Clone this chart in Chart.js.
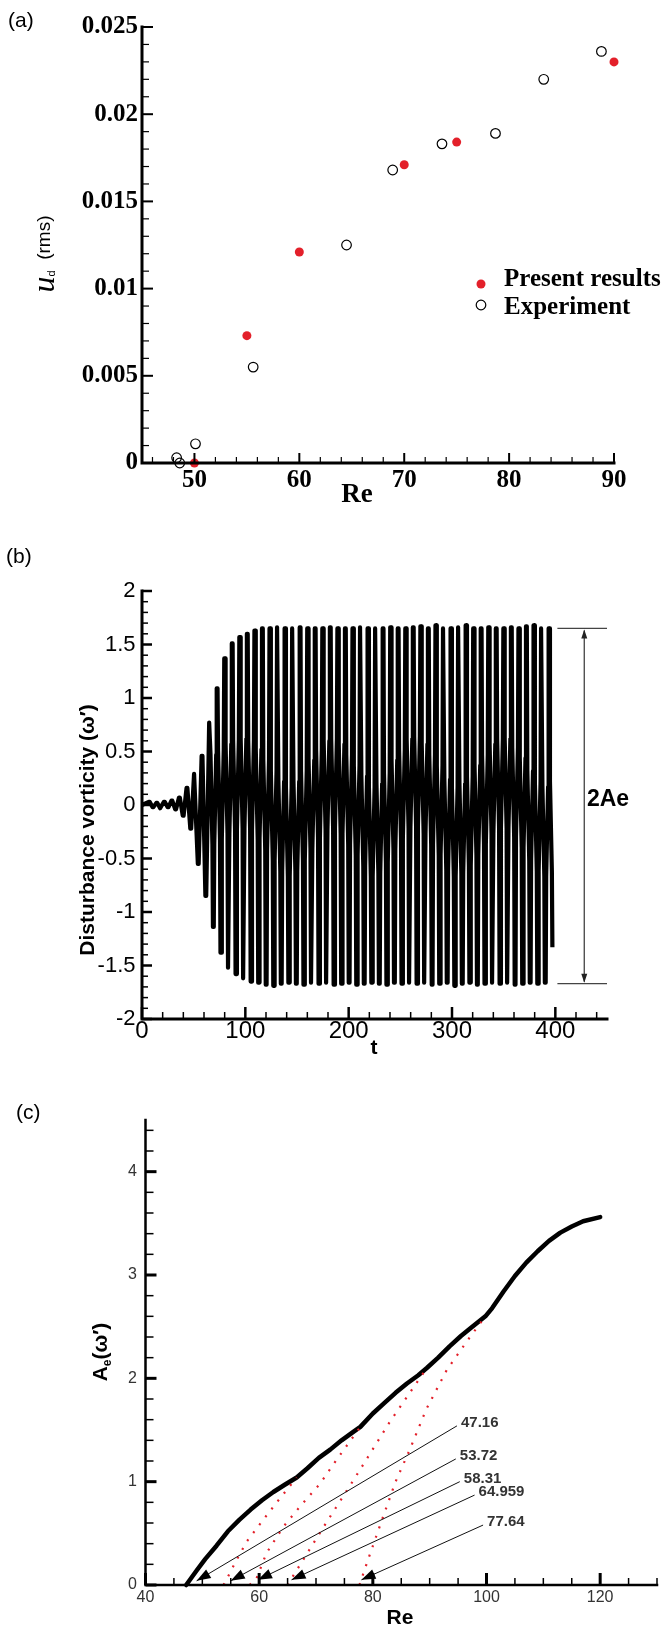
<!DOCTYPE html>
<html>
<head>
<meta charset="utf-8">
<title>Wake instability vs Re</title>
<script src="https://cdn.jsdelivr.net/npm/chart.js@4.4.1/dist/chart.umd.min.js"></script>
<style>
  body { margin: 0; background: #fff; }
  canvas { position: absolute; left: 0; }
  #chartA { top: 0; }
  #chartB { top: 520px; }
  #chartC { top: 1060px; }
</style>
</head>
<body>
<canvas id="chartA" width="667" height="520"></canvas>
<canvas id="chartB" width="667" height="540"></canvas>
<canvas id="chartC" width="667" height="568"></canvas>
<script>
// ---------- (a) u_d rms against Re
const presentRe = [50, 55, 60, 70, 75, 90];
const presentUd = [0.0000, 0.0073, 0.0121, 0.0171, 0.0184, 0.0230];
const expRe = [48.3, 48.6, 50.1, 55.6, 64.5, 68.9, 73.6, 78.7, 83.3, 88.8];
const expUd = [0.0003, 0.0000, 0.0011, 0.0055, 0.0125, 0.0168, 0.0183, 0.0189, 0.0220, 0.0236];
const aXTicks = [50, 60, 70, 80, 90];
const aYTicks = [0, 0.005, 0.01, 0.015, 0.02, 0.025];

// ---------- (b) disturbance vorticity time trace, one entry per oscillation cycle
const cycleT = [7, 14.3, 21.6, 28.9, 36.2, 43.5, 50.8, 58.1, 65.4, 72.7,
  80, 87.3, 94.6, 101.9, 109.2, 116.5, 123.8, 131.1, 138.4, 145.7,
  153, 160.3, 167.6, 174.9, 182.2, 189.5, 196.8, 204.1, 211.4, 218.7,
  226, 233.3, 240.6, 247.9, 255.2, 262.5, 269.8, 277.1, 284.4, 291.7,
  299, 306.3, 313.6, 320.9, 328.2, 335.5, 342.8, 350.1, 357.4, 364.7,
  372, 379.3, 386.6, 393.9];
const peakHi = [0.03, 0.02, 0.03, 0.04, 0.07, 0.16, 0.29, 0.46, 0.77, 1.09,
  1.37, 1.51, 1.57, 1.60, 1.63, 1.65, 1.65, 1.66, 1.65, 1.65,
  1.66, 1.65, 1.65, 1.65, 1.66, 1.65, 1.65, 1.65, 1.66, 1.65,
  1.65, 1.65, 1.66, 1.65, 1.65, 1.66, 1.67, 1.65, 1.68, 1.65,
  1.65, 1.66, 1.68, 1.65, 1.65, 1.66, 1.65, 1.65, 1.66, 1.65,
  1.67, 1.68, 1.65, 1.65];
const troughLo = [-0.02, -0.03, -0.02, -0.04, -0.10, -0.22, -0.55, -0.85, -1.14, -1.38,
  -1.52, -1.58, -1.62, -1.65, -1.66, -1.68, -1.69, -1.67, -1.66, -1.67,
  -1.68, -1.66, -1.67, -1.66, -1.68, -1.67, -1.66, -1.68, -1.67, -1.66,
  -1.67, -1.68, -1.66, -1.67, -1.66, -1.67, -1.66, -1.68, -1.67, -1.66,
  -1.69, -1.67, -1.66, -1.68, -1.67, -1.66, -1.67, -1.66, -1.68, -1.67,
  -1.66, -1.67, -1.66, -1.33];
// slow drift of the dark middle band
const bandMid = [0, 0, 0, 0, 0, 0, 0, 0.0, 0.05, 0.1,
  0.15, 0.18, 0.2, 0.18, 0.1, 0.0, -0.1, -0.2, -0.25, -0.2,
  -0.1, 0.0, 0.1, 0.18, 0.2, 0.15, 0.05, -0.05, -0.15, -0.25,
  -0.22, -0.12, 0.0, 0.1, 0.2, 0.22, 0.15, 0.05, -0.05, -0.18,
  -0.25, -0.22, -0.15, -0.05, 0.05, 0.15, 0.2, 0.2, 0.12, 0.02,
  -0.1, -0.2, -0.25, -0.2];
const bXTicks = [0, 100, 200, 300, 400];
const bYTicks = [-2, -1.5, -1, -0.5, 0, 0.5, 1, 1.5, 2];
const aeTop = 1.65, aeBot = -1.67;

// ---------- (c) saturated amplitude A_e against Re
const mainRe = [47.16, 49, 50.5, 52.5, 54.5, 56.5, 58.5, 60.5, 62.5, 64.5, 66.6, 68.5, 70.5, 72.5, 74.5, 76.5, 77.8,
  80, 82, 84, 86, 88, 89.5, 91.5, 93.5, 95.5, 97.5, 99.8, 101, 103, 105, 107, 109, 111, 113, 115, 117, 120];
const mainAe = [0, 0.14, 0.25, 0.38, 0.52, 0.63, 0.73, 0.82, 0.9, 0.97, 1.04, 1.13, 1.23, 1.31, 1.4, 1.48, 1.53,
  1.66, 1.76, 1.86, 1.95, 2.03, 2.1, 2.2, 2.31, 2.41, 2.5, 2.6, 2.68, 2.84, 2.99, 3.12, 3.23, 3.33, 3.41, 3.47, 3.52, 3.56];
const branch1Re = [53.72, 54.5, 56, 57.8, 60.7, 63.1, 66.6];
const branch1Ae = [0, 0.08, 0.24, 0.42, 0.63, 0.8, 1.04];
const branch2Re = [58.31, 59.5, 61.3, 64.2, 67.5, 70.7, 73.6, 77.8];
const branch2Ae = [0, 0.06, 0.31, 0.56, 0.78, 0.98, 1.21, 1.53];
const branch3Re = [64.959, 66, 71.2, 77, 83, 89.5];
const branch3Ae = [0, 0.09, 0.55, 1.05, 1.58, 2.1];
const branch4Re = [77.64, 79, 81.8, 84, 86.5, 89.4, 93, 96.7, 99.8];
const branch4Ae = [0, 0.22, 0.66, 1.0, 1.31, 1.7, 2.08, 2.37, 2.6];
const leaderLabel = ['47.16', '53.72', '58.31', '64.959', '77.64'];
const leaderTipRe = [49.0, 55.0, 59.8, 65.7, 78.0];
const leaderTipAe = [0.04, 0.04, 0.05, 0.05, 0.05];
const leaderTailRe = [94.8, 94.6, 95.3, 97.9, 99.4];
const leaderTailAe = [1.54, 1.22, 1.0, 0.87, 0.58];
const cXTicks = [40, 60, 80, 100, 120];
const cYTicks = [0, 1, 2, 3, 4];

const red = '#e3202a';
const xy = (xs, ys) => xs.map((v, i) => ({ x: v, y: ys[i] }));

// inward axis ticks and the two axis lines
function frame(spec) {
  return {
    id: 'frame',
    afterDraw(chart) {
      const { ctx, chartArea: a, scales: { x, y } } = chart;
      ctx.save();
      ctx.strokeStyle = '#000';
      const each = (min, max, step, fn) => {
        const start = Math.ceil(min / step - 1e-6);
        for (let i = start; i * step <= max + 1e-9; i++) fn(+(i * step).toFixed(6));
      };
      const isMajor = (v, step) => Math.abs(v / step - Math.round(v / step)) < 1e-6;
      each(x.min, x.max, spec.xMinor, v => {
        const maj = isMajor(v, spec.xMajor);
        const px = x.getPixelForValue(v);
        ctx.lineWidth = maj ? spec.majW : spec.minW;
        ctx.beginPath();
        ctx.moveTo(px, a.bottom);
        ctx.lineTo(px, a.bottom - (maj ? spec.xMaj : spec.xMin));
        ctx.stroke();
      });
      each(y.min, y.max, spec.yMinor, v => {
        const maj = isMajor(v, spec.yMajor);
        const py = y.getPixelForValue(v);
        ctx.lineWidth = maj ? spec.majW : spec.minW;
        ctx.beginPath();
        ctx.moveTo(a.left, py);
        ctx.lineTo(a.left + (maj ? spec.yMaj : spec.yMin), py);
        ctx.stroke();
      });
      ctx.lineWidth = spec.axisW;
      ctx.lineCap = 'square';
      ctx.beginPath();
      ctx.moveTo(a.left, a.top);
      ctx.lineTo(a.left, a.bottom);
      ctx.lineTo(a.right, a.bottom);
      ctx.stroke();
      ctx.restore();
    }
  };
}

// text written bottom-to-top; parts share one baseline at page x = bx
function verticalText(ctx, parts, bx, cy) {
  ctx.save();
  ctx.translate(bx, cy);
  ctx.rotate(-Math.PI / 2);
  ctx.textBaseline = 'alphabetic';
  ctx.textAlign = 'left';
  let total = 0;
  parts.forEach(p => { ctx.font = p.font; total += ctx.measureText(p.text).width; });
  let pos = -total / 2;
  parts.forEach(p => {
    ctx.font = p.font;
    ctx.fillStyle = p.color || '#000';
    ctx.fillText(p.text, pos, p.dy || 0);
    pos += ctx.measureText(p.text).width;
  });
  ctx.restore();
}

function text(ctx, str, x, y, font, align, color) {
  ctx.save();
  ctx.font = font;
  ctx.fillStyle = color || '#000';
  ctx.textAlign = align || 'left';
  ctx.textBaseline = 'middle';
  ctx.fillText(str, x, y);
  ctx.restore();
}

function fixedTicks(values) {
  return s => { s.ticks = values.map(v => ({ value: v })); };
}

function axisOpts(min, max, values, font, padding, color, fit) {
  return {
    type: 'linear', min, max,
    afterBuildTicks: fixedTicks(values),
    afterFit: fit,
    grid: { display: false, drawTicks: false },
    border: { display: false },
    ticks: { autoSkip: false, maxRotation: 0, minRotation: 0, padding, font, color: color || '#000',
      callback: v => String(v) }
  };
}

const serifBold = { family: 'Liberation Serif', weight: 'bold', size: 25 };

// ---------- chart (a)
new Chart(document.getElementById('chartA'), {
  type: 'scatter',
  data: {
    datasets: [
      { label: 'Present results', data: xy(presentRe, presentUd), pointRadius: 4.5,
        pointBackgroundColor: red, pointBorderColor: red, pointBorderWidth: 0, clip: false },
      { label: 'Experiment', data: xy(expRe, expUd), pointRadius: 4.8,
        pointBackgroundColor: 'rgba(0,0,0,0)', pointBorderColor: '#000', pointBorderWidth: 1.2, clip: false }
    ]
  },
  options: {
    responsive: false, animation: false, events: [],
    layout: { padding: { left: 42, right: 53, top: 27, bottom: 17 } },
    plugins: { legend: { display: false }, tooltip: { enabled: false } },
    scales: {
      x: axisOpts(45, 90, aXTicks, serifBold, 3, '#000', s => { s.height = 40; }),
      y: axisOpts(0, 0.025, aYTicks, serifBold, 4, '#000', s => { s.width = 100; })
    }
  },
  plugins: [frame({ xMinor: 2, xMajor: 10, yMinor: 0.001, yMajor: 0.005, xMaj: 10, xMin: 6, yMaj: 11, yMin: 7,
    majW: 2, minW: 1.2, axisW: 3 }), {
    id: 'decorA',
    afterDraw(chart) {
      const ctx = chart.ctx;
      const ds = chart.data.datasets;
      text(ctx, '(a)', 8, 21, '21px "Liberation Sans"');
      text(ctx, 'Re', 357, 495, 'bold 27px "Liberation Serif"', 'center');
      verticalText(ctx, [
        { text: 'u', font: 'italic 32px "Liberation Serif"' },
        { text: 'd', font: '11px "Liberation Sans"', dy: 1 },
        { text: '  (rms)', font: '19px "Liberation Sans"', dy: -4 }
      ], 54, 254);
      // legend
      ctx.save();
      ctx.fillStyle = ds[0].pointBackgroundColor;
      ctx.beginPath(); ctx.arc(481, 284, ds[0].pointRadius, 0, Math.PI * 2); ctx.fill();
      ctx.strokeStyle = ds[1].pointBorderColor; ctx.lineWidth = ds[1].pointBorderWidth;
      ctx.beginPath(); ctx.arc(481, 305, ds[1].pointRadius, 0, Math.PI * 2); ctx.stroke();
      ctx.restore();
      text(ctx, ds[0].label, 504, 280, 'bold 25px "Liberation Serif"');
      text(ctx, ds[1].label, 504, 308, 'bold 25px "Liberation Serif"');
    }
  }]
});

// ---------- chart (b)
// each cycle: flat-topped peak, a slanted pass through the middle band, flat trough, slanted pass back up
function traceB() {
  const pts = [{ x: 0, y: 0 }];
  const n = cycleT.length;
  const h = 0.42;
  for (let k = 0; k < n; k++) {
    const t = cycleT[k], hi = peakHi[k], lo = troughLo[k], c = bandMid[k];
    const band = hi > c + h + 0.15 && lo < c - h - 0.15;
    pts.push({ x: t - 0.4, y: hi }, { x: t + 0.4, y: hi });
    if (band) pts.push({ x: t + 0.9, y: c + h }, { x: t + 2.75, y: c - h });
    pts.push({ x: t + 3.25, y: lo });
    if (k === n - 1) break;
    pts.push({ x: t + 4.05, y: lo });
    if (band && peakHi[k + 1] > c + h + 0.15) pts.push({ x: t + 4.55, y: c - h }, { x: t + 6.4, y: c + h });
  }
  return pts;
}

new Chart(document.getElementById('chartB'), {
  type: 'scatter',
  data: {
    datasets: [{ label: 'vorticity', data: traceB(), showLine: true, pointRadius: 0, borderColor: '#000',
      borderWidth: 4.2, borderJoinStyle: 'round', tension: 0, clip: false }]
  },
  options: {
    responsive: false, animation: false, events: [],
    layout: { padding: { left: 42, right: 60, top: 71, bottom: 11 } },
    plugins: { legend: { display: false }, tooltip: { enabled: false } },
    scales: {
      x: axisOpts(0, 450, bXTicks, { family: 'Liberation Sans', size: 24 }, -2, '#000', s => { s.height = 30; }),
      y: axisOpts(-2, 2, bYTicks, { family: 'Liberation Sans', size: 22 }, 6.5, '#000', s => { s.width = 100; })
    }
  },
  plugins: [frame({ xMinor: 20, xMajor: 100, yMinor: 0.1, yMajor: 0.5, xMaj: 12, xMin: 7, yMaj: 10, yMin: 6,
    majW: 2.5, minW: 1.5, axisW: 3 }), {
    id: 'decorB',
    afterDraw(chart) {
      const { ctx, scales: { x, y } } = chart;
      text(ctx, '(b)', 6, 37, '21px "Liberation Sans"');
      text(ctx, 't', 374, 528, 'bold 21px "Liberation Sans"', 'center');
      verticalText(ctx, [{ text: 'Disturbance vorticity (\u03c9\u2032)', font: 'bold 21px "Liberation Sans"' }], 94, 310);
      const yt = y.getPixelForValue(aeTop), yb = y.getPixelForValue(aeBot);
      const x0 = x.getPixelForValue(402), x1 = x.getPixelForValue(450), xa = x.getPixelForValue(428);
      ctx.save();
      ctx.strokeStyle = '#444';
      ctx.fillStyle = '#222';
      ctx.lineWidth = 1.3;
      ctx.beginPath();
      ctx.moveTo(x0, yt); ctx.lineTo(x1, yt);
      ctx.moveTo(x0, yb); ctx.lineTo(x1, yb);
      ctx.moveTo(xa, yt + 2); ctx.lineTo(xa, yb - 2);
      ctx.stroke();
      ctx.beginPath();
      ctx.moveTo(xa, yt + 1); ctx.lineTo(xa - 3, yt + 10); ctx.lineTo(xa + 3, yt + 10); ctx.closePath();
      ctx.moveTo(xa, yb - 1); ctx.lineTo(xa - 3, yb - 10); ctx.lineTo(xa + 3, yb - 10); ctx.closePath();
      ctx.fill();
      ctx.restore();
      text(ctx, '2Ae', 608, 280, 'bold 23px "Liberation Sans"', 'center');
    }
  }]
});

// ---------- chart (c)
const dotted = (xs, ys) => ({ data: xy(xs, ys), showLine: true, pointRadius: 0, borderColor: red,
  borderWidth: 2.2, borderDash: [2, 8], tension: 0, clip: false });

new Chart(document.getElementById('chartC'), {
  type: 'scatter',
  data: {
    datasets: [
      dotted(branch1Re, branch1Ae),
      dotted(branch2Re, branch2Ae),
      dotted(branch3Re, branch3Ae),
      dotted(branch4Re, branch4Ae),
      { data: xy(mainRe, mainAe), showLine: true, pointRadius: 0, borderColor: '#000', borderWidth: 4.5,
        borderJoinStyle: 'round', borderCapStyle: 'round', tension: 0, clip: false }
    ]
  },
  options: {
    responsive: false, animation: false, events: [],
    layout: { padding: { left: 45.5, right: 10, top: 60, bottom: 13 } },
    plugins: { legend: { display: false }, tooltip: { enabled: false } },
    scales: {
      x: axisOpts(40, 130, cXTicks, { family: 'Liberation Sans', size: 16 }, 3, '#333', s => { s.height = 30; }),
      y: axisOpts(0, 4.5, cYTicks, { family: 'Liberation Sans', size: 16 }, 8.5, '#333', s => { s.width = 100; })
    }
  },
  plugins: [frame({ xMinor: 5, xMajor: 20, yMinor: 0.2, yMajor: 1, xMaj: 12, xMin: 7, yMaj: 11, yMin: 8,
    majW: 3, minW: 1.5, axisW: 2.5 }), {
    id: 'decorC',
    afterDraw(chart) {
      const { ctx, scales: { x, y } } = chart;
      text(ctx, '(c)', 16, 53, '21px "Liberation Sans"');
      text(ctx, 'Re', 400, 558, 'bold 21px "Liberation Sans"', 'center');
      verticalText(ctx, [
        { text: 'A', font: 'bold 21px "Liberation Sans"' },
        { text: 'e', font: 'bold 12px "Liberation Sans"', dy: 4 },
        { text: '(\u03c9\u2032)', font: 'bold 21px "Liberation Sans"' }
      ], 107, 292);
      ctx.save();
      for (let i = 0; i < leaderLabel.length; i++) {
        const x1 = x.getPixelForValue(leaderTailRe[i]), y1 = y.getPixelForValue(leaderTailAe[i]);
        const x2 = x.getPixelForValue(leaderTipRe[i]), y2 = y.getPixelForValue(leaderTipAe[i]);
        ctx.strokeStyle = '#111';
        ctx.lineWidth = 1;
        ctx.beginPath(); ctx.moveTo(x1, y1); ctx.lineTo(x2, y2); ctx.stroke();
        const len = Math.hypot(x2 - x1, y2 - y1);
        const ux = (x2 - x1) / len, uy = (y2 - y1) / len;
        ctx.fillStyle = '#000';
        ctx.beginPath();
        ctx.moveTo(x2, y2);
        ctx.lineTo(x2 - ux * 14 - uy * 5, y2 - uy * 14 + ux * 5);
        ctx.lineTo(x2 - ux * 14 + uy * 5, y2 - uy * 14 - ux * 5);
        ctx.closePath();
        ctx.fill();
        text(ctx, leaderLabel[i], x1 + 4, y1 - 3, 'bold 15px "Liberation Sans"', 'left', '#333');
      }
      ctx.restore();
    }
  }]
});
</script>
</body>
</html>
